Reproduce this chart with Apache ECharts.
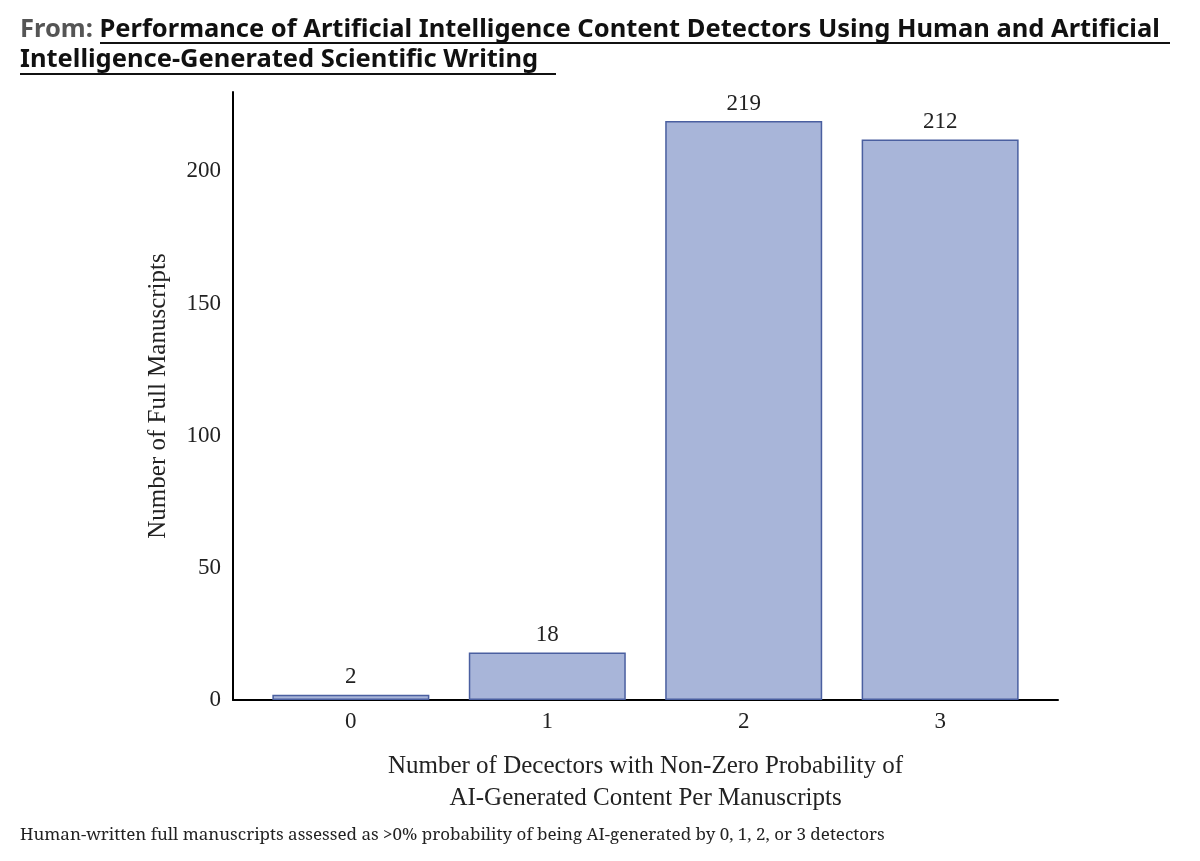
<!DOCTYPE html>
<html>
<head>
<meta charset="utf-8">
<script src="https://cdn.jsdelivr.net/npm/echarts@6/dist/echarts.min.js"></script>
<style>
  html, body { margin: 0; padding: 0; background: #fff; }
  #chart { width: 1200px; height: 861px; }
</style>
</head>
<body>
<div id="chart"></div>
<script>
const categories = [0, 1, 2, 3]
const counts = [2, 18, 219, 212]
const yTicks = [0, 50, 100, 150, 200]

const chart = echarts.init(document.getElementById('chart'))

const serif = '"Liberation Serif", "DejaVu Serif", serif'

const options = {
  animation: false,
  title: [
    {
      text: '{from|From: }{link|Performance of Artificial Intelligence Content Detectors Using Human and Artificial}',
      left: 15, top: 12,
      textStyle: {
        rich: {
          from: { fontFamily: '"Noto Sans"', fontWeight: 'bold', fontSize: 25.5, color: '#555' },
          link: { fontFamily: '"Noto Sans"', fontWeight: 'bold', fontSize: 25.5, color: '#111' }
        }
      }
    },
    {
      text: 'Intelligence-Generated Scientific Writing',
      left: 15, top: 42,
      textStyle: { fontFamily: '"Noto Sans"', fontWeight: 'bold', fontSize: 25.5, color: '#111' }
    },
    {
      text: 'Human-written full manuscripts assessed as >0% probability of being AI-generated by 0, 1, 2, or 3 detectors',
      left: 15, top: 822,
      textStyle: { fontFamily: '"Noto Serif", "DejaVu Serif", serif', fontWeight: 'normal', fontSize: 17, color: '#222' }
    }
  ],
  graphic: [
    { type: 'line', shape: { x1: 100, y1: 43, x2: 1170, y2: 43 }, style: { stroke: '#111', lineWidth: 2 } },
    { type: 'line', shape: { x1: 20, y1: 74, x2: 556, y2: 74 }, style: { stroke: '#111', lineWidth: 2 } }
  ],
  grid: { left: 233, right: 142, top: 92, bottom: 161 },
  xAxis: {
    type: 'value',
    min: -0.6, max: 3.6, interval: 0.2,
    name: 'Number of Decectors with Non-Zero Probability of\nAI-Generated Content Per Manuscripts',
    nameLocation: 'middle', nameGap: 50,
    nameTextStyle: { fontFamily: serif, fontSize: 25, color: '#222', lineHeight: 32 },
    axisLine: { lineStyle: { color: '#000', width: 2 } },
    axisTick: { show: false },
    splitLine: { show: false },
    axisLabel: {
      fontFamily: serif, fontSize: 23, color: '#222', margin: 10,
      showMinLabel: false, showMaxLabel: false,
      formatter: v => {
        const r = Math.round(v)
        return Math.abs(v - r) < 1e-6 && categories.includes(r) ? String(r) : ''
      }
    }
  },
  yAxis: {
    type: 'value',
    min: 0, max: 230, interval: 50,
    name: 'Number of Full Manuscripts',
    nameLocation: 'middle', nameGap: 62,
    nameTextStyle: { fontFamily: serif, fontSize: 25, color: '#222' },
    axisLine: { show: true, onZero: false, lineStyle: { color: '#000', width: 2 } },
    axisTick: { show: false },
    splitLine: { show: false },
    axisLabel: {
      fontFamily: serif, fontSize: 23, color: '#222', margin: 12,
      formatter: v => yTicks.includes(v) ? String(v) : ''
    }
  },
  series: [{
    type: 'bar',
    barWidth: 157,
    data: categories.map((c, i) => [c, counts[i]]),
    itemStyle: { color: '#a8b5d9', borderColor: '#4a5fa0', borderWidth: 1.5 },
    label: {
      show: true, position: 'top', distance: 6,
      fontFamily: serif, fontSize: 23, color: '#222',
      formatter: p => String(p.value[1])
    }
  }]
}

chart.setOption(options)
</script>
</body>
</html>
